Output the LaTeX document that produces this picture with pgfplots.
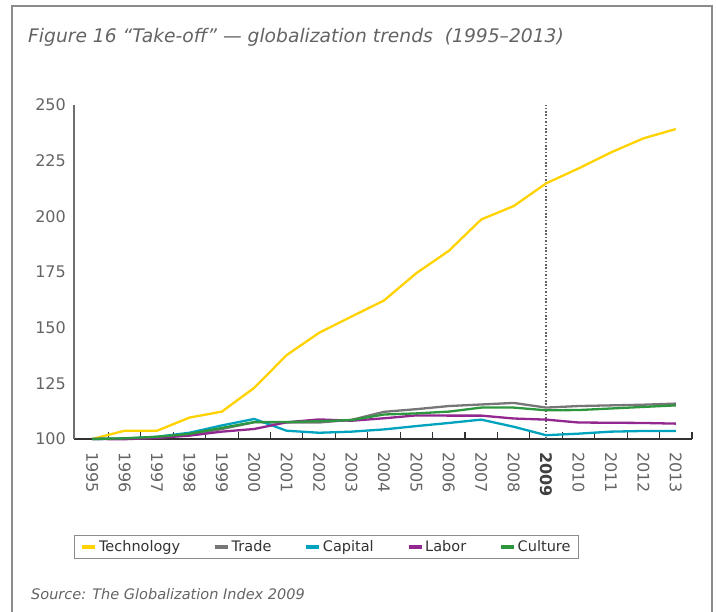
\documentclass[border=0pt]{standalone}
\usepackage{pgfplots}
\pgfplotsset{compat=1.18}
\usepackage{pgfplotstable}
\usepackage{fontspec}
\setmainfont{DejaVu Sans}
\definecolor{cTech}{RGB}{255,210,0}
\definecolor{cTrade}{RGB}{118,118,120}
\definecolor{cCap}{RGB}{0,163,190}
\definecolor{cLab}{RGB}{145,39,143}
\definecolor{cCul}{RGB}{44,151,62}
\definecolor{txt}{RGB}{100,100,100}
\pgfplotstableread{
year tech trade capital labor culture
1995 100.0 100.0 100.0 100.0 100.0
1996 103.7 100.2 100.2 99.9 100.3
1997 103.7 100.6 101.0 100.5 101.0
1998 109.6 101.8 102.8 101.5 102.3
1999 112.3 104.5 106.1 103.3 105.0
2000 123.0 107.5 109.0 104.5 107.6
2001 137.7 107.4 103.7 107.5 107.6
2002 147.7 107.4 102.8 108.8 108.0
2003 155.0 108.6 103.3 108.2 108.5
2004 162.2 112.2 104.3 109.3 111.0
2005 174.5 113.4 105.8 110.6 111.5
2006 184.5 114.8 107.2 110.5 112.3
2007 198.6 115.5 108.7 110.5 114.1
2008 204.6 116.2 105.5 109.2 114.1
2009 214.8 114.1 101.7 108.7 112.9
2010 221.5 114.8 102.4 107.4 113.0
2011 228.7 115.1 103.3 107.3 113.7
2012 235.0 115.4 103.6 107.2 114.4
2013 239.2 115.9 103.6 106.9 115.1
}\data
\begin{document}
\begin{tikzpicture}[x=1bp,y=1bp]
\useasboundingbox (0,0) rectangle (716,612);
\draw[color={rgb,255:red,140;green,140;blue,140},line width=1.1bp] (12,-2) -- (12,606) -- (712,606) -- (712,-2);
\node[anchor=base west,inner sep=0pt,text=txt,font=\fontsize{18.7bp}{22bp}\selectfont\itshape] at (28,569) {Figure 16 “Take-off” — globalization trends\ \ (1995–2013)};
\node[anchor=base west,inner sep=0pt,text=txt,font=\fontsize{14.5bp}{17bp}\selectfont\itshape] at (31,12) {Source: The Globalization Index 2009};
\begin{axis}[
  at={(74bp,173bp)}, anchor=south west,
  scale only axis, width=618bp, height=334bp,
  xmin=1994.44, xmax=2013.5, ymin=100, ymax=250,
  axis x line=bottom, axis y line=left,
  x axis line style={-, line width=1.2bp, color={rgb,255:red,50;green,50;blue,50}},
  y axis line style={-, line width=1.2bp, color={rgb,255:red,110;green,110;blue,110}},
  xtick={1995,...,2013},
  xticklabels={1995,1996,1997,1998,1999,2000,2001,2002,2003,2004,2005,2006,2007,2008,{\textbf{\textcolor{black!75}{2009}}},2010,2011,2012,2013},
  minor xtick={1995.5,1996.5,...,2013.5},
  ytick={100,125,...,250},
  major tick length=0pt, minor tick length=6.5bp, tick align=inside,
  minor x tick style={line width=1.1bp, color={rgb,255:red,50;green,50;blue,50}},
  /pgf/number format/assume math mode=true,
  tick label style={text=txt, font=\fontsize{16bp}{19bp}\selectfont},
  xticklabel style={rotate=-90, anchor=west, inner sep=0pt},
  xticklabel shift=13bp,
  yticklabel style={anchor=east, inner sep=0pt},
  yticklabel shift=8bp,
  clip=false,
  legend columns=5,
  legend style={at={(0.4086,-0.3234)}, anchor=center, draw={rgb,255:red,140;green,140;blue,140}, line width=1.1bp,
     font=\fontsize{14.5bp}{17bp}\selectfont, text=black!80, inner xsep=6bp, inner ysep=3.5bp,
     /tikz/every even column/.append style={column sep=31bp}},
  legend image code/.code={\draw[line width=3.5bp] (-3bp,0bp) -- (10bp,0bp);},
  every axis plot/.append style={line width=2.3bp, line join=round},
]
\addplot[forget plot, line width=1.6bp, dash pattern=on 1.6bp off 1.8bp, color=black!62] coordinates {(2009,100) (2009,250)};
\addplot[cTech] table[x=year,y=tech] {\data};
\addlegendentry{Technology}
\addplot[cTrade] table[x=year,y=trade] {\data};
\addlegendentry{Trade}
\addplot[cCap] table[x=year,y=capital] {\data};
\addlegendentry{Capital}
\addplot[cLab] table[x=year,y=labor] {\data};
\addlegendentry{Labor}
\addplot[cCul] table[x=year,y=culture] {\data};
\addlegendentry{Culture}
\end{axis}
\end{tikzpicture}
\end{document}
